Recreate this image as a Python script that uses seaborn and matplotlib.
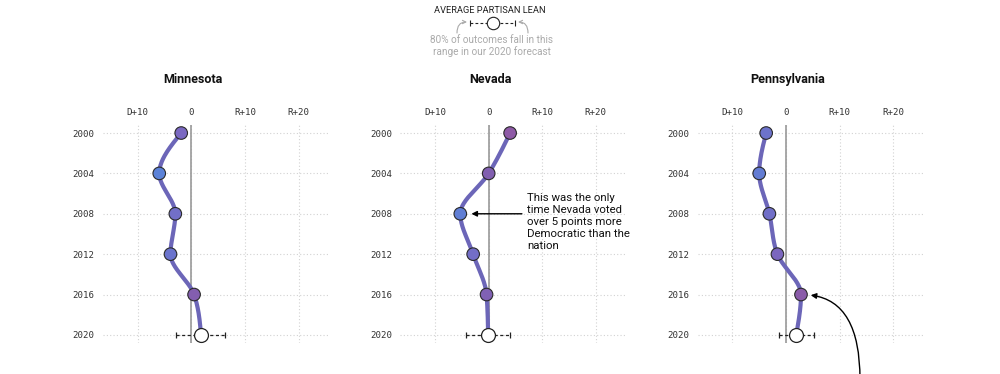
import numpy as np
import pandas as pd
import matplotlib
matplotlib.use("Agg")
import matplotlib.pyplot as plt
from matplotlib.colors import LinearSegmentedColormap
import seaborn as sns

# data (partisan lean, negative = D, positive = R)
years = [2000, 2004, 2008, 2012, 2016, 2020]
states = ["Minnesota", "Nevada", "Pennsylvania"]
minnesota = [-1.9, -6.0, -3.0, -3.9, 0.5, 1.8]
nevada = [4.0, 0.0, -5.3, -2.9, -0.4, -0.1]
pennsylvania = [-3.7, -5.0, -3.1, -1.6, 2.8, 1.9]
lean = {"Minnesota": minnesota, "Nevada": nevada, "Pennsylvania": pennsylvania}
# 80% forecast range for 2020
range_lo = {"Minnesota": -2.8, "Nevada": -4.3, "Pennsylvania": -1.25}
range_hi = {"Minnesota": 6.3, "Nevada": 4.0, "Pennsylvania": 5.3}
xticks = [-10, 0, 10, 20]
xtick_labels = ["D+10", "0", "R+10", "R+20"]

sns.set_style("white")
plt.rcParams["font.family"] = ["Roboto", "DejaVu Sans"]

line_col = "#6c66b8"
cmap = LinearSegmentedColormap.from_list(
    "lean", [(0.0, "#5b82d8"), (0.4, "#7a68c2"), (0.6, "#815fb0"), (1.0, "#8e5aa6")])
norm = (-6, 4)


def monotone(t, v, n=40):
    # d3 style monotone curve, with year as the independent variable
    t = np.asarray(t, float)
    v = np.asarray(v, float)
    h = np.diff(t)
    s = np.diff(v) / h
    m = np.zeros(len(t))
    for i in range(1, len(t) - 1):
        p = (s[i - 1] * h[i] + s[i] * h[i - 1]) / (h[i - 1] + h[i])
        m[i] = (np.sign(s[i - 1]) + np.sign(s[i])) * min(abs(s[i - 1]), abs(s[i]), 0.5 * abs(p))
    m[0] = (3 * s[0] - m[1]) / 2
    m[-1] = (3 * s[-1] - m[-2]) / 2
    xs, ys = [], []
    for i in range(len(t) - 1):
        u = np.linspace(0, 1, n)
        h00 = 2 * u**3 - 3 * u**2 + 1
        h10 = u**3 - 2 * u**2 + u
        h01 = -2 * u**3 + 3 * u**2
        h11 = u**3 - u**2
        xs.append(h00 * v[i] + h10 * h[i] * m[i] + h01 * v[i + 1] + h11 * h[i] * m[i + 1])
        ys.append(t[i] + u * h[i])
    return np.concatenate(xs), np.concatenate(ys)


fig = plt.figure(figsize=(10, 3.74), dpi=100)

# overlay for the key at the top (pixel coordinates)
lax = fig.add_axes([0, 0, 1, 1])
lax.set_xlim(0, 1000)
lax.set_ylim(374, 0)
lax.axis("off")
lax.text(490, 10, "AVERAGE PARTISAN LEAN", ha="center", va="center", fontsize=6.7, color="#222")
lax.plot([470, 515], [23, 23], ls=(0, (2.5, 2)), color="#222", lw=0.8)
lax.plot([470, 515], [23, 23], ls="none", marker="|", ms=5, mew=0.8, color="#222")
lax.scatter([492.5], [23], s=80, facecolor="white", edgecolor="#222", linewidth=0.8, zorder=3)
for x0, x1 in [(457, 467), (528, 518)]:
    lax.annotate("", xy=(x1, 22), xytext=(x0, 33),
                 arrowprops=dict(arrowstyle="->", color="#aaa", lw=0.8, shrinkA=0, shrinkB=0,
                                 mutation_scale=6,
                                 connectionstyle="angle3,angleA=90,angleB=0"))
lax.text(492, 40, "80% of outcomes fall in this", ha="center", va="center", fontsize=7.2, color="#aaa")
lax.text(492, 52, "range in our 2020 forecast", ha="center", va="center", fontsize=7.2, color="#aaa")

lefts = [0.103, 0.4003, 0.6976]
axes = {}
for st, left in zip(states, lefts):
    ax = fig.add_axes([left, 0.0829, 0.225, 0.583])
    axes[st] = ax
    vals = lean[st]
    df = pd.DataFrame({"year": years[:5], "lean": vals[:5]})

    cx, cy = monotone(years, vals)
    ax.plot(cx, cy, color=line_col, lw=3, solid_capstyle="round", zorder=2)
    sns.scatterplot(data=df, x="lean", y="year", hue="lean", palette=cmap, hue_norm=norm,
                    s=82, edgecolor="#2a2a2a", linewidth=0.8, legend=False, ax=ax, zorder=4)

    # 2020 forecast with its range
    lo, hi = range_lo[st], range_hi[st]
    ax.plot([lo, hi], [2020, 2020], ls=(0, (2.5, 2)), color="#222", lw=0.9, zorder=3)
    ax.plot([lo, hi], [2020, 2020], ls="none", marker="|", ms=5, mew=0.9, color="#222", zorder=3)
    ax.scatter([vals[5]], [2020], s=100, facecolor="white", edgecolor="#222", linewidth=0.9, zorder=5)

    ax.axvline(0, color="#999", lw=1.2, zorder=1)
    ax.set_xlim(-16.5, 25.5)
    ax.set_ylim(2020.8, 1999.2)
    ax.set_xticks(xticks)
    ax.set_xticklabels(xtick_labels, family="DejaVu Sans Mono", fontsize=6.6, color="#333")
    ax.set_yticks(years)
    ax.set_yticklabels([str(y) for y in years], family="DejaVu Sans Mono", fontsize=6.6, color="#333")
    ax.xaxis.tick_top()
    ax.tick_params(length=0, pad=6)
    ax.grid(True, ls=(0, (1, 2)), color="#d2d2d2", lw=0.8)
    ax.set_axisbelow(True)
    for sp in ax.spines.values():
        sp.set_visible(False)
    ax.set_xlabel("")
    ax.set_ylabel("")
    ax.patch.set_alpha(0)
    ax.text(0.4, 1.21, st, transform=ax.transAxes, ha="center", va="center",
            fontsize=9, fontweight="bold", color="#111")

# Nevada note
nv = axes["Nevada"]
nv.annotate("", xy=(nevada[2], 2008), xytext=(6.2, 2008),
            arrowprops=dict(arrowstyle="-|>", color="black", lw=1, shrinkA=0, shrinkB=8,
                            mutation_scale=8))
nv.text(7.2, 2005.9, "This was the only\ntime Nevada voted\nover 5 points more\nDemocratic than the\nnation",
        ha="left", va="top", fontsize=8.2, linespacing=1.27, color="#111")

# Pennsylvania arrow coming up from below the chart
pa = axes["Pennsylvania"]
pa.annotate("", xy=(pennsylvania[4], 2016), xytext=(860, -5), textcoords="figure pixels",
            annotation_clip=False,
            arrowprops=dict(arrowstyle="-|>", color="black", lw=1, shrinkA=0, shrinkB=7,
                            mutation_scale=8,
                            connectionstyle="angle3,angleA=90,angleB=0"))

fig.savefig("out.png", dpi=100)
